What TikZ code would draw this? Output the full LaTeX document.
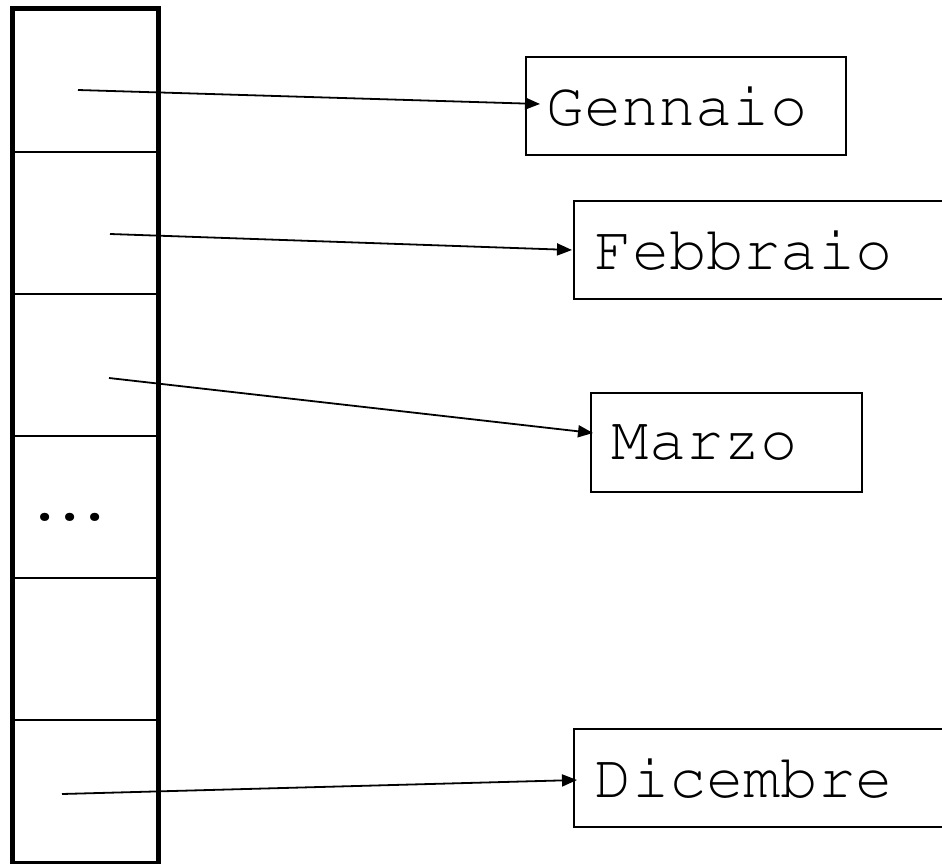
\documentclass[tikz,border=0pt]{standalone}
\usepackage[T1]{fontenc}
\usetikzlibrary{arrows.meta}
\newcommand{\monthfont}{\fontencoding{T1}\fontfamily{pcr}\fontseries{m}\fontshape{n}\fontsize{62}{62}\selectfont}
\begin{document}
\begin{tikzpicture}[x=1pt,y=-1pt,
  cell/.style={draw,line width=2pt,minimum width=144pt,minimum height=142pt,inner sep=0pt},
  month/.style={draw,line width=1.6pt,anchor=west,inner xsep=21pt,inner ysep=0pt,align=left,
    font=\monthfont},
  ptr/.style={line width=1.8pt,-{Triangle[length=15pt,width=12pt]}}]
\useasboundingbox (0,0) rectangle (942,864);
\clip (0,0) rectangle (942,864);
% column of cells
\node[cell] (c1) at (85,81) {};
\node[cell] (c2) at (85,223) {};
\node[cell] (c3) at (85,365) {};
\node[cell] (c4) at (85,507) {};
\node[cell] (c5) at (85,649) {};
\node[cell] (c6) at (85,791) {};
\draw[line width=5pt] (c1.north west) rectangle (c6.south east);
\node[anchor=base west,inner sep=0pt,font=\monthfont] (dots) at (26,520) {.\kern-12pt.\kern-12pt.};
% month boxes
\node[month,text width=278pt,minimum height=98pt] (gen) at (525,106) {Gennaio};
\node[month,text width=358pt,minimum height=98pt] (feb) at (573,250) {Febbraio};
\node[month,text width=229pt,minimum height=99pt] (mar) at (590,442.5) {Marzo};
\node[month,text width=358pt,minimum height=98pt] (dic) at (573,778) {Dicembre};
% pointers
\coordinate (s1) at (78,90);
\coordinate (s2) at (110,234);
\coordinate (s3) at (109,378);
\coordinate (s6) at (62,794);
\coordinate (t1) at (540,104);
\coordinate (t2) at (572,250);
\coordinate (t3) at (593,433);
\coordinate (t6) at (577,780);
\draw[ptr] (s1) -- (t1);
\draw[ptr] (s2) -- (t2);
\draw[ptr] (s3) -- (t3);
\draw[ptr] (s6) -- (t6);
\end{tikzpicture}
\end{document}
